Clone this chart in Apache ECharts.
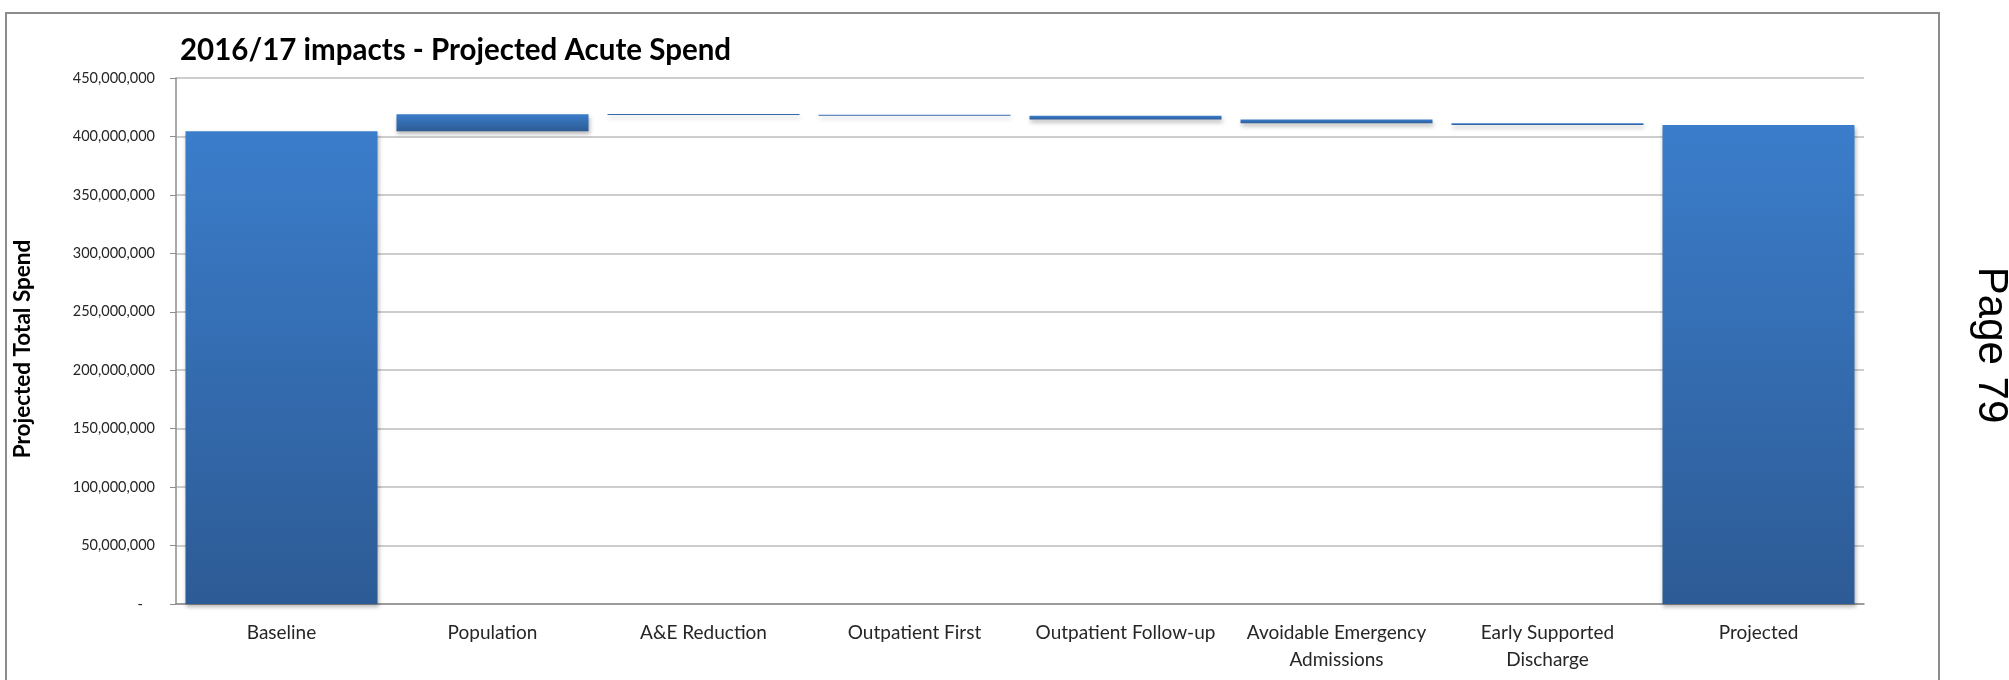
<!DOCTYPE html>
<html>
<head>
<meta charset="utf-8">
<style>
  html, body { margin: 0; padding: 0; background: #ffffff; }
  #chart { width: 2009px; height: 680px; }
</style>
<script src="https://cdn.jsdelivr.net/npm/echarts@6/dist/echarts.min.js"></script>
</head>
<body>
<div id="chart"></div>
<script>
// Waterfall steps: totals are absolute spend, the rest are changes
const categories = ['Baseline', 'Population', 'A&E Reduction', 'Outpatient First',
  'Outpatient Follow-up', 'Avoidable Emergency\nAdmissions', 'Early Supported\nDischarge', 'Projected'];
const stepValues = [404500000, 14500000, -600000, -800000, -3200000, -3200000, -1400000, 409800000];
const isTotal = [true, false, false, false, false, false, false, true];

// Invisible offset + visible segment for each step
const offsets = [];
const segments = [];
let running = 0;
stepValues.forEach((v, i) => {
  if (isTotal[i]) {
    offsets.push(0);
    segments.push(v);
    running = v;
  } else if (v >= 0) {
    offsets.push(running);
    segments.push(v);
    running += v;
  } else {
    running += v;
    offsets.push(running);
    segments.push(-v);
  }
});

// Accounting style: zero shown as a dash, thousands separated by commas
function withCommas(n) {
  if (n === 0) return '{z|-}';
  return String(Math.round(n)).replace(/\B(?=(\d{3})+(?!\d))/g, ',');
}

const font = 'Lato, "Open Sans", sans-serif';
const chart = echarts.init(document.getElementById('chart'), null, { renderer: 'canvas' });

chart.setOption({
  animation: false,
  backgroundColor: '#ffffff',
  title: {
    text: '2016/17 impacts - Projected Acute Spend',
    left: 175,
    top: 30,
    textStyle: { fontFamily: font, fontWeight: 'bold', fontSize: 29.5, color: '#000000' }
  },
  grid: { left: 176, right: 145, top: 78, bottom: 76, containLabel: false },
  xAxis: {
    type: 'category',
    data: categories,
    axisLine: { show: true, lineStyle: { color: '#8c8c8c', width: 1.5 } },
    axisTick: { show: false },
    axisLabel: {
      interval: 0,
      margin: 15,
      fontFamily: font,
      fontSize: 19,
      lineHeight: 27,
      color: '#262626'
    }
  },
  yAxis: {
    type: 'value',
    min: 0,
    max: 450000000,
    interval: 50000000,
    name: 'Projected Total Spend',
    nameLocation: 'middle',
    nameRotate: 90,
    nameGap: 142,
    nameTextStyle: {
      fontFamily: font,
      fontWeight: 'bold',
      fontSize: 22.5,
      color: '#000000',
      padding: [0, 16, 0, 0]
    },
    axisLine: { show: true, lineStyle: { color: '#8c8c8c', width: 1.5 } },
    axisTick: { show: true, inside: false, length: 6, lineStyle: { color: '#8c8c8c' } },
    axisLabel: {
      margin: 21,
      fontFamily: font,
      fontSize: 14.5,
      color: '#262626',
      formatter: (v) => withCommas(v),
      rich: {
        z: { fontFamily: font, fontSize: 14.5, color: '#262626', padding: [0, 12, 0, 0] }
      }
    },
    splitLine: { show: true, lineStyle: { color: '#bdbdbd', width: 1.5 } }
  },
  series: [
    {
      name: 'offset',
      type: 'bar',
      stack: 'fall',
      silent: true,
      barCategoryGap: '9%',
      itemStyle: { color: 'transparent' },
      data: offsets
    },
    {
      name: 'spend',
      type: 'bar',
      stack: 'fall',
      barCategoryGap: '9%',
      barMinHeight: 1,
      itemStyle: {
        color: new echarts.graphic.LinearGradient(0, 0, 0, 1, [
          { offset: 0, color: '#3b7dcb' },
          { offset: 1, color: '#2d5b95' }
        ]),
        shadowColor: 'rgba(0,0,0,0.28)',
        shadowBlur: 4,
        shadowOffsetX: 1,
        shadowOffsetY: 3
      },
      data: segments
    }
  ],
  graphic: [
    {
      type: 'rect',
      silent: true,
      shape: { x: 6, y: 13, width: 1933, height: 720 },
      style: { fill: 'none', stroke: '#8c8c8c', lineWidth: 2 }
    },
    {
      type: 'text',
      silent: true,
      x: 1970,
      y: 345,
      rotation: -Math.PI / 2,
      style: {
        text: 'Page 79',
        fontFamily: '"Liberation Sans", Arial, sans-serif',
        fontSize: 42,
        fill: '#000000',
        align: 'center',
        verticalAlign: 'bottom'
      }
    }
  ]
});
</script>
</body>
</html>
